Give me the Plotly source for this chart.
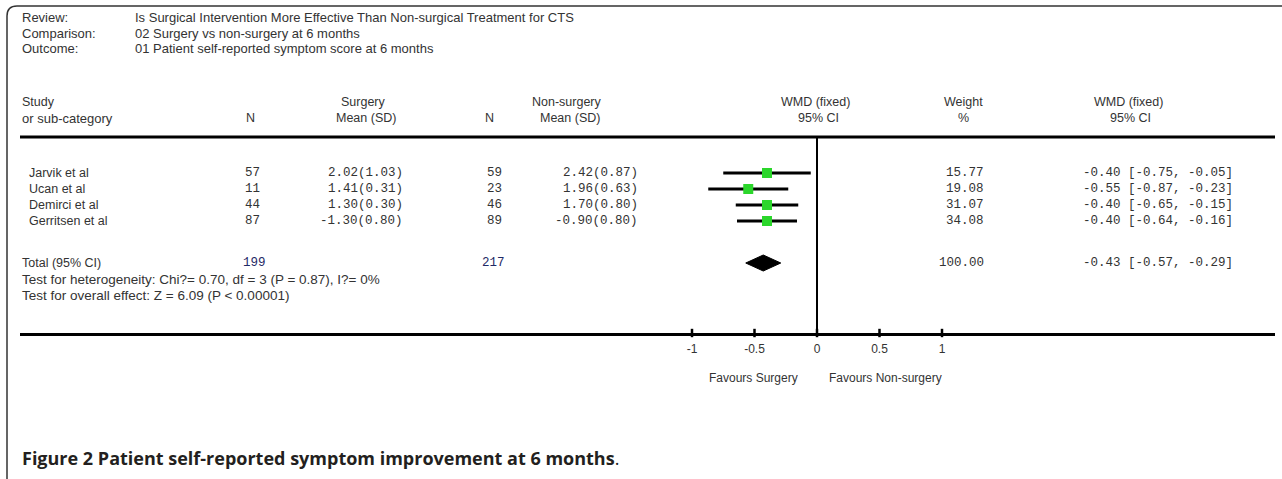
import plotly.graph_objects as go

W, H = 1282, 479

# ---------------- data ----------------
studies = ["Jarvik et al", "Ucan et al", "Demirci et al", "Gerritsen et al"]
n_surg = [57, 11, 44, 87]
mean_surg = [2.02, 1.41, 1.30, -1.30]
sd_surg = [1.03, 0.31, 0.30, 0.80]
n_non = [59, 23, 46, 89]
mean_non = [2.42, 1.96, 1.70, -0.90]
sd_non = [0.87, 0.63, 0.80, 0.80]
weights = [15.77, 19.08, 31.07, 34.08]
wmd = [-0.40, -0.55, -0.40, -0.40]
ci_lo = [-0.75, -0.87, -0.65, -0.64]
ci_hi = [-0.05, -0.23, -0.15, -0.16]
total_n_surg = 199
total_n_non = 217
total_weight = 100.00
total_wmd = -0.43
total_lo = -0.57
total_hi = -0.29
tick_vals = [-1, -0.5, 0, 0.5, 1]
tick_text = ["-1", "-0.5", "0", "0.5", "1"]

header_labels = ["Review:", "Comparison:", "Outcome:"]
header_values = ["Is Surgical Intervention More Effective Than Non-surgical Treatment for CTS",
                 "02 Surgery vs non-surgery at 6 months",
                 "01 Patient self-reported symptom score at 6 months"]
het_text = "Test for heterogeneity: Chi?= 0.70, df = 3 (P = 0.87), I?= 0%"
overall_text = "Test for overall effect: Z = 6.09 (P < 0.00001)"

# ---------------- layout constants (pixels) ----------------
X_LEFT, X_RIGHT = 20, 1275
X_ZERO, UNIT = 817, 125
Y_TOP_LINE = 137
Y_AXIS = 333
ROW0, ROW_STEP = 173, 16
Y_TOTAL = 263

SANS = "Liberation Sans, Arial, sans-serif"
MONO = "Liberation Mono, Courier New, monospace"
TXT = "#333333"
NAVY = "#1f2a66"
SZ = 12.5
MSZ = 12.5


def px(x):
    return x / W


def py(y):
    return 1 - y / H


annotations = []


def ann(x, y, text, anchor="left", font=SANS, size=SZ, color=TXT):
    annotations.append(dict(x=px(x), y=py(y), xref="paper", yref="paper", text=text,
                            showarrow=False, xanchor=anchor, yanchor="middle",
                            font=dict(family=font, size=size, color=color)))


# header block
for i, (lab, val) in enumerate(zip(header_labels, header_values)):
    ann(20, 17 + 16 * i, lab, size=13)
    ann(133, 17 + 16 * i, val, size=13)

# column headers
ann(20, 102, "Study")
ann(20, 118, "or sub-category", size=13)
ann(250, 118, "N", "center")
ann(363, 102, "Surgery", "center")
ann(366, 118, "Mean (SD)", "center")
ann(489, 118, "N", "center")
ann(567, 102, "Non-surgery", "center")
ann(570, 118, "Mean (SD)", "center")
ann(815, 102, "WMD (fixed)", "center")
ann(818, 118, "95% CI", "center")
ann(963, 102, "Weight", "center")
ann(963, 118, "%", "center")
ann(1128, 102, "WMD (fixed)", "center")
ann(1130, 118, "95% CI", "center")

row_y = [ROW0 + ROW_STEP * i for i in range(len(studies))]
for i, s in enumerate(studies):
    y = row_y[i]
    ann(27, y, s)
    ann(262, y, str(n_surg[i]), "right", MONO, MSZ)
    ann(405, y, f"{mean_surg[i]:.2f}({sd_surg[i]:.2f})", "right", MONO, MSZ)
    ann(504, y, str(n_non[i]), "right", MONO, MSZ)
    ann(640, y, f"{mean_non[i]:.2f}({sd_non[i]:.2f})", "right", MONO, MSZ)
    ann(986, y, f"{weights[i]:.2f}", "right", MONO, MSZ)
    ann(1081, y, f"{wmd[i]:.2f} [{ci_lo[i]:.2f}, {ci_hi[i]:.2f}]", "left", MONO, MSZ)

ann(20, Y_TOTAL, "Total (95% CI)")
ann(268, Y_TOTAL, str(total_n_surg), "right", MONO, MSZ, NAVY)
ann(507, Y_TOTAL, str(total_n_non), "right", MONO, MSZ, NAVY)
ann(986, Y_TOTAL, f"{total_weight:.2f}", "right", MONO, MSZ)
ann(1081, Y_TOTAL, f"{total_wmd:.2f} [{total_lo:.2f}, {total_hi:.2f}]", "left", MONO, MSZ)
ann(20, Y_TOTAL + 16, het_text, size=13.5)
ann(20, Y_TOTAL + 32, overall_text, size=13.5)

ann(800, 378, "Favours Surgery", "right", size=12)
ann(827, 378, "Favours Non-surgery", "left", size=12)

annotations.append(dict(x=px(20), y=py(458), xref="paper", yref="paper",
                        text="<b>Figure 2 Patient self-reported symptom improvement at 6 months</b>.",
                        showarrow=False, xanchor="left", yanchor="middle",
                        font=dict(family="Open Sans, sans-serif", size=18, color="#231f20")))

# ---------------- traces ----------------
fig = go.Figure()

ci_x, ci_y = [], []
for i in range(len(studies)):
    ci_x += [ci_lo[i], ci_hi[i], None]
    ci_y += [row_y[i], row_y[i], None]
fig.add_trace(go.Scatter(x=ci_x, y=ci_y, mode="lines",
                         line=dict(color="black", width=3), hoverinfo="skip"))

fig.add_trace(go.Scatter(x=wmd, y=row_y, mode="markers",
                         marker=dict(symbol="square", size=10, color="#2bd62b",
                                     line=dict(width=0)),
                         hoverinfo="skip"))

half_h = 8
fig.add_trace(go.Scatter(x=[total_lo, total_wmd, total_hi, total_wmd, total_lo],
                         y=[Y_TOTAL, Y_TOTAL - half_h, Y_TOTAL, Y_TOTAL + half_h, Y_TOTAL],
                         mode="lines", fill="toself", fillcolor="black",
                         line=dict(color="black", width=1), hoverinfo="skip"))

# tick marks crossing the axis line
fig.add_trace(go.Scatter(x=tick_vals, y=[Y_AXIS] * len(tick_vals), mode="markers",
                         marker=dict(symbol="line-ns", size=6,
                                     line=dict(color="black", width=2.5)),
                         cliponaxis=False, hoverinfo="skip"))

shapes = [
    dict(type="line", xref="paper", yref="paper", x0=px(X_LEFT), x1=px(X_RIGHT),
         y0=py(Y_TOP_LINE), y1=py(Y_TOP_LINE), line=dict(color="black", width=3)),
    dict(type="line", xref="x", yref="y", x0=0, x1=0, y0=Y_TOP_LINE, y1=Y_AXIS,
         line=dict(color="black", width=2)),
    dict(type="path", xref="paper", yref="paper",
         path=f"M {px(7)},{py(479)} L {px(7)},{py(16)} Q {px(7)},{py(6)} {px(17)},{py(6)} L {px(1282)},{py(6)}",
         line=dict(color="#333333", width=1.5)),
]

x_range = [(X_LEFT - X_ZERO) / UNIT, (X_RIGHT - X_ZERO) / UNIT]

fig.update_layout(
    width=W, height=H,
    margin=dict(l=0, r=0, t=0, b=0),
    paper_bgcolor="white", plot_bgcolor="white",
    showlegend=False,
    annotations=annotations,
    shapes=shapes,
    xaxis=dict(domain=[px(X_LEFT), px(X_RIGHT)], range=x_range,
               showgrid=False, zeroline=False, showline=True, linecolor="black",
               linewidth=3, ticks="", ticklabelstandoff=3,
               tickvals=tick_vals, ticktext=tick_text,
               tickfont=dict(family=SANS, size=12, color=TXT), fixedrange=True),
    yaxis=dict(domain=[py(Y_AXIS), 1], range=[Y_AXIS, 0], visible=False,
               showgrid=False, zeroline=False, fixedrange=True),
)

fig.write_html("out.html", config={"displayModeBar": False},
               post_script="document.body.style.margin='0px';document.body.style.overflow='hidden';")
